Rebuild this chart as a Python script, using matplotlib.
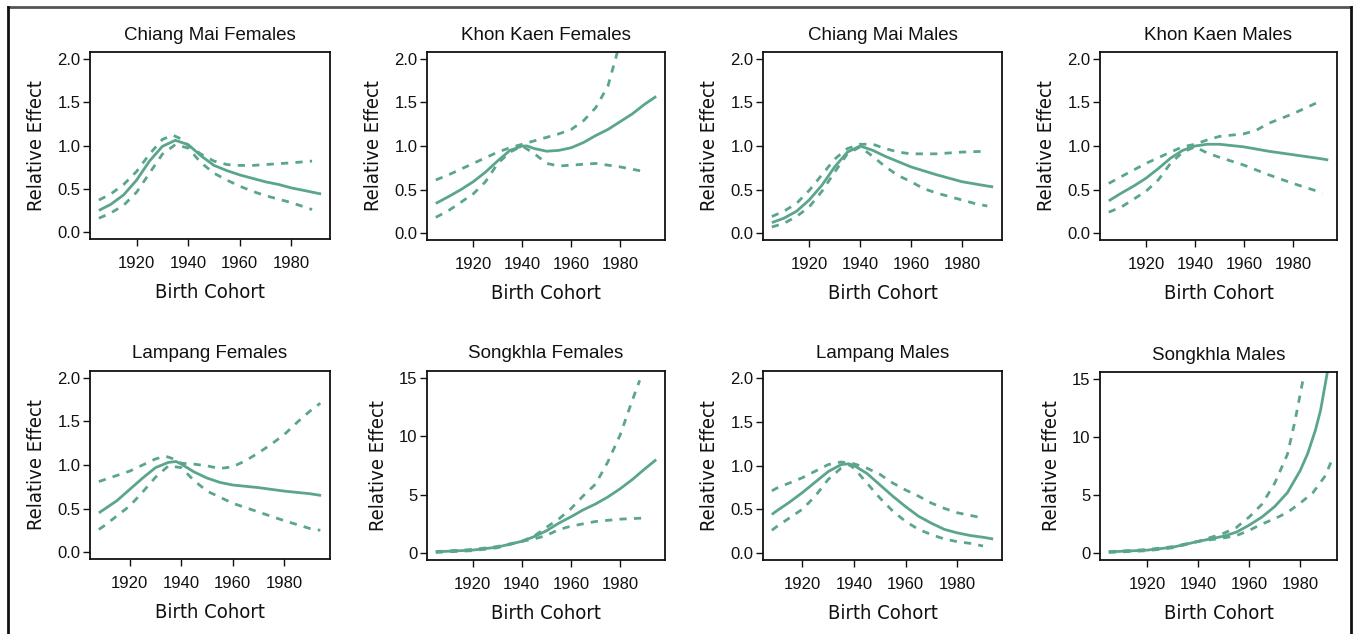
import matplotlib
matplotlib.use("Agg")
import matplotlib.pyplot as plt
from matplotlib.lines import Line2D
from matplotlib import font_manager

plt.rcParams["font.family"] = ["Liberation Sans", "DejaVu Sans"]


def label_font(size):
    """Regular condensed sans face for axis titles, else Liberation Sans."""
    for f in font_manager.fontManager.ttflist:
        narrow = ("Narrow" in f.name or "Condensed" in f.name
                  or f.stretch in ("condensed", "semi-condensed", 500 - 100, 500 - 200))
        if narrow and f.style == "normal" and f.weight in ("normal", 400, "regular") \
                and ("Sans" in f.name or "Roboto" in f.name):
            return font_manager.FontProperties(fname=f.fname, size=size)
    return font_manager.FontProperties(family="Liberation Sans", size=size - 0.5)


GREEN = "#5BA68A"

titles = [
    "Chiang Mai Females", "Khon Kaen Females", "Chiang Mai Males", "Khon Kaen Males",
    "Lampang Females", "Songkhla Females", "Lampang Males", "Songkhla Males",
]
x_ticks = [1920, 1940, 1960, 1980]
y_ticks_small = [0.0, 0.5, 1.0, 1.5, 2.0]
y_labels_small = ["0.0", "0.5", "1.0", "1.5", "2.0"]
y_ticks_large = [0, 5, 10, 15]
y_labels_large = ["0", "5", "10", "15"]

# ---- Chiang Mai Females ----
cmf_year = [1905.4, 1910, 1915, 1920, 1925, 1930, 1935, 1940, 1945, 1950, 1955, 1960, 1965, 1970, 1975, 1980, 1985, 1991.5]
cmf_est = [0.25, 0.32, 0.43, 0.60, 0.82, 0.99, 1.06, 1.01, 0.88, 0.77, 0.71, 0.66, 0.62, 0.58, 0.55, 0.51, 0.48, 0.44]
cmf_up_year = [1905.4, 1910, 1915, 1920, 1925, 1930, 1934, 1937, 1940, 1945, 1950, 1955, 1960, 1965, 1970, 1975, 1980, 1988]
cmf_up = [0.37, 0.44, 0.55, 0.70, 0.90, 1.07, 1.12, 1.08, 1.00, 0.90, 0.82, 0.78, 0.77, 0.77, 0.78, 0.79, 0.80, 0.82]
cmf_lo_year = [1905.4, 1910, 1915, 1920, 1925, 1930, 1935, 1940, 1945, 1950, 1955, 1960, 1965, 1970, 1975, 1980, 1985, 1988]
cmf_lo = [0.16, 0.22, 0.31, 0.46, 0.68, 0.90, 1.01, 0.97, 0.80, 0.68, 0.60, 0.53, 0.47, 0.42, 0.38, 0.34, 0.29, 0.26]

# ---- Khon Kaen Females ----
kkf_year = [1904.7, 1910, 1915, 1920, 1925, 1930, 1935, 1940, 1942, 1945, 1950, 1955, 1960, 1965, 1970, 1975, 1980, 1985, 1990, 1994.7]
kkf_est = [0.34, 0.42, 0.50, 0.59, 0.70, 0.83, 0.95, 1.00, 1.00, 0.97, 0.94, 0.95, 0.98, 1.04, 1.12, 1.19, 1.28, 1.37, 1.48, 1.57]
kkf_up_year = [1904.7, 1910, 1920, 1930, 1935, 1940, 1945, 1950, 1955, 1960, 1965, 1970, 1975, 1978, 1980]
kkf_up = [0.61, 0.67, 0.80, 0.93, 0.98, 1.02, 1.06, 1.10, 1.14, 1.19, 1.29, 1.44, 1.69, 1.99, 2.20]
kkf_lo_year = [1904.7, 1910, 1920, 1925, 1930, 1935, 1940, 1945, 1950, 1955, 1960, 1970, 1980, 1991]
kkf_lo = [0.18, 0.26, 0.45, 0.59, 0.80, 0.93, 1.00, 0.91, 0.80, 0.77, 0.78, 0.80, 0.76, 0.70]

# ---- Chiang Mai Males ----
cmm_year = [1905.3, 1910, 1915, 1920, 1925, 1930, 1935, 1940, 1945, 1950, 1960, 1970, 1980, 1990, 1992.3]
cmm_est = [0.12, 0.17, 0.25, 0.38, 0.55, 0.76, 0.93, 1.00, 0.95, 0.88, 0.76, 0.67, 0.59, 0.54, 0.53]
cmm_up_year = [1905.3, 1910, 1915, 1920, 1925, 1930, 1935, 1940, 1945, 1950, 1955, 1960, 1970, 1980, 1990]
cmm_up = [0.19, 0.25, 0.34, 0.49, 0.67, 0.85, 0.97, 1.02, 1.02, 0.97, 0.93, 0.91, 0.91, 0.93, 0.94]
cmm_lo_year = [1905.3, 1910, 1915, 1920, 1925, 1930, 1935, 1940, 1945, 1950, 1955, 1960, 1965, 1970, 1975, 1980, 1985, 1990]
cmm_lo = [0.07, 0.11, 0.19, 0.30, 0.48, 0.70, 0.91, 0.99, 0.88, 0.76, 0.66, 0.59, 0.51, 0.46, 0.42, 0.38, 0.34, 0.31]

# ---- Khon Kaen Males ----
kkm_year = [1904.8, 1910, 1915, 1920, 1925, 1930, 1935, 1940, 1945, 1950, 1960, 1970, 1980, 1990, 1994.4]
kkm_est = [0.37, 0.46, 0.54, 0.63, 0.74, 0.86, 0.95, 1.00, 1.02, 1.02, 0.99, 0.94, 0.90, 0.86, 0.84]
kkm_up_year = [1904.8, 1910, 1920, 1930, 1935, 1940, 1945, 1950, 1960, 1965, 1970, 1980, 1990, 1992]
kkm_up = [0.57, 0.65, 0.80, 0.93, 0.99, 1.02, 1.07, 1.11, 1.14, 1.18, 1.26, 1.37, 1.50, 1.53]
kkm_lo_year = [1904.8, 1910, 1920, 1925, 1930, 1935, 1940, 1945, 1950, 1960, 1970, 1980, 1990, 1992]
kkm_lo = [0.24, 0.30, 0.48, 0.61, 0.80, 0.93, 0.99, 0.92, 0.87, 0.78, 0.67, 0.57, 0.48, 0.46]

# ---- Lampang Females ----
lpf_year = [1908, 1910, 1915, 1920, 1925, 1930, 1935, 1938, 1940, 1945, 1950, 1955, 1960, 1970, 1980, 1990, 1994.3]
lpf_est = [0.45, 0.49, 0.59, 0.72, 0.85, 0.97, 1.03, 1.04, 1.01, 0.92, 0.85, 0.80, 0.77, 0.74, 0.70, 0.67, 0.65]
lpf_up_year = [1908, 1910, 1920, 1930, 1934, 1937, 1940, 1945, 1950, 1955, 1960, 1965, 1970, 1975, 1980, 1985, 1990, 1994]
lpf_up = [0.81, 0.83, 0.93, 1.07, 1.10, 1.07, 1.02, 1.01, 0.99, 0.96, 0.98, 1.05, 1.14, 1.24, 1.35, 1.49, 1.62, 1.71]
lpf_lo_year = [1908, 1910, 1920, 1925, 1930, 1935, 1940, 1945, 1950, 1955, 1960, 1970, 1980, 1990, 1994]
lpf_lo = [0.26, 0.30, 0.53, 0.69, 0.86, 0.99, 0.97, 0.82, 0.70, 0.63, 0.56, 0.46, 0.36, 0.27, 0.25]

# ---- Songkhla Females ----
skf_year = [1905, 1910, 1920, 1930, 1940, 1945, 1950, 1955, 1960, 1965, 1970, 1975, 1980, 1985, 1990, 1994.7]
skf_est = [0.10, 0.15, 0.25, 0.50, 1.00, 1.40, 1.90, 2.55, 3.10, 3.70, 4.20, 4.80, 5.50, 6.30, 7.20, 8.00]
skf_up_year = [1905, 1910, 1920, 1930, 1940, 1945, 1950, 1955, 1960, 1965, 1970, 1975, 1980, 1985, 1988]
skf_up = [0.12, 0.18, 0.30, 0.55, 1.00, 1.45, 2.20, 2.90, 3.80, 4.90, 5.90, 7.80, 10.10, 13.10, 14.80]
skf_lo_year = [1905, 1910, 1920, 1930, 1940, 1945, 1950, 1955, 1960, 1970, 1980, 1990]
skf_lo = [0.05, 0.10, 0.20, 0.45, 1.00, 1.20, 1.50, 2.00, 2.30, 2.70, 2.90, 3.00]

# ---- Lampang Males ----
lpm_year = [1908.2, 1910, 1915, 1920, 1925, 1930, 1935, 1938, 1940, 1945, 1950, 1955, 1960, 1965, 1970, 1975, 1980, 1985, 1990, 1993.9]
lpm_est = [0.44, 0.48, 0.58, 0.69, 0.81, 0.93, 1.01, 1.02, 1.00, 0.91, 0.78, 0.65, 0.53, 0.42, 0.34, 0.27, 0.23, 0.20, 0.18, 0.16]
lpm_up_year = [1908.2, 1910, 1920, 1930, 1935, 1940, 1945, 1950, 1955, 1960, 1965, 1970, 1975, 1980, 1985, 1990]
lpm_up = [0.71, 0.74, 0.86, 1.01, 1.04, 1.02, 0.97, 0.90, 0.80, 0.72, 0.65, 0.57, 0.51, 0.46, 0.43, 0.40]
lpm_lo_year = [1908.2, 1910, 1920, 1925, 1930, 1935, 1938, 1940, 1945, 1950, 1955, 1960, 1965, 1970, 1975, 1980, 1985, 1990]
lpm_lo = [0.26, 0.30, 0.50, 0.65, 0.84, 0.97, 1.01, 0.97, 0.80, 0.63, 0.48, 0.36, 0.27, 0.21, 0.16, 0.13, 0.11, 0.08]

# ---- Songkhla Males ----
skm_year = [1905, 1910, 1920, 1930, 1940, 1950, 1955, 1960, 1965, 1970, 1975, 1980, 1983, 1986, 1988, 1991]
skm_est = [0.10, 0.15, 0.25, 0.50, 1.00, 1.45, 1.80, 2.40, 3.10, 4.00, 5.20, 7.10, 8.60, 10.60, 12.30, 16.00]
skm_up_year = [1905, 1910, 1920, 1930, 1940, 1950, 1955, 1960, 1965, 1970, 1975, 1978, 1981]
skm_up = [0.12, 0.18, 0.30, 0.55, 1.00, 1.70, 2.20, 3.10, 4.20, 6.00, 8.50, 11.40, 14.80]
skm_lo_year = [1905, 1910, 1920, 1930, 1940, 1950, 1955, 1960, 1965, 1970, 1975, 1980, 1985, 1990, 1992]
skm_lo = [0.05, 0.10, 0.20, 0.45, 1.00, 1.30, 1.50, 1.95, 2.50, 2.95, 3.50, 4.30, 5.20, 6.70, 7.80]

panels = [
    (cmf_year, cmf_est, cmf_up_year, cmf_up, cmf_lo_year, cmf_lo),
    (kkf_year, kkf_est, kkf_up_year, kkf_up, kkf_lo_year, kkf_lo),
    (cmm_year, cmm_est, cmm_up_year, cmm_up, cmm_lo_year, cmm_lo),
    (kkm_year, kkm_est, kkm_up_year, kkm_up, kkm_lo_year, kkm_lo),
    (lpf_year, lpf_est, lpf_up_year, lpf_up, lpf_lo_year, lpf_lo),
    (skf_year, skf_est, skf_up_year, skf_up, skf_lo_year, skf_lo),
    (lpm_year, lpm_est, lpm_up_year, lpm_up, lpm_lo_year, lpm_lo),
    (skm_year, skm_est, skm_up_year, skm_up, skm_lo_year, skm_lo),
]
large_scale = [False, False, False, False, False, True, False, True]

W, H = 1357, 634
fig = plt.figure(figsize=(W / 100, H / 100), dpi=100)

# axes boxes in pixels: left, right, top, bottom
boxes = [
    (90, 330, 52, 239), (427, 665, 52, 240), (763, 1002, 52, 240), (1100, 1337, 52, 240),
    (90, 330, 371, 559), (427, 665, 371, 560), (763, 1002, 371, 560), (1100, 1337, 372, 560),
]

lab_fp = label_font(14.5)

for i, (box, data) in enumerate(zip(boxes, panels)):
    l, r, t, b = box
    ax = fig.add_axes([l / W, 1 - b / H, (r - l) / W, (b - t) / H])
    yr, est, uy, up, ly, lo = data
    ax.plot(yr, est, color=GREEN, lw=2.0, solid_capstyle="butt", solid_joinstyle="round")
    for xs, ys in ((uy, up), (ly, lo)):
        ax.plot(xs, ys, color=GREEN, lw=2.0, linestyle=(0, (2.6, 2.6)), dash_capstyle="butt")
    x0, x1 = yr[0], yr[-1]
    pad = 0.04 * (x1 - x0)
    ax.set_xlim(x0 - pad, x1 + pad)
    if large_scale[i]:
        ax.set_ylim(-0.6, 15.6)
        ax.set_yticks(y_ticks_large)
        ax.set_yticklabels(y_labels_large)
    else:
        ax.set_ylim(-0.08, 2.08)
        ax.set_yticks(y_ticks_small)
        ax.set_yticklabels(y_labels_small)
    ax.set_xticks(x_ticks)
    ax.set_xticklabels([str(v) for v in x_ticks])
    ax.tick_params(axis="both", direction="out", length=5, width=1.0, labelsize=12, colors="#111111")
    ax.tick_params(axis="x", pad=7)
    ax.tick_params(axis="y", pad=2)
    for s in ax.spines.values():
        s.set_linewidth(1.3)
        s.set_color("#111111")
    ax.set_title(titles[i], fontsize=13.5, pad=9, color="#111111")
    ax.set_xlabel("Birth Cohort", fontproperties=lab_fp, labelpad=9, color="#111111")
    ax.set_ylabel("Relative Effect", fontproperties=lab_fp, labelpad=8, color="#111111")

# outer frame: top, left and right rules
fig.add_artist(Line2D([8 / W, 1351 / W], [1 - 7 / H, 1 - 7 / H], transform=fig.transFigure, color="#555555", lw=2.0))
fig.add_artist(Line2D([8 / W, 8 / W], [0, 1 - 7 / H], transform=fig.transFigure, color="#111111", lw=2.0))
fig.add_artist(Line2D([1351 / W, 1351 / W], [0, 1 - 7 / H], transform=fig.transFigure, color="#111111", lw=2.0))

fig.savefig("out.png", dpi=100)
